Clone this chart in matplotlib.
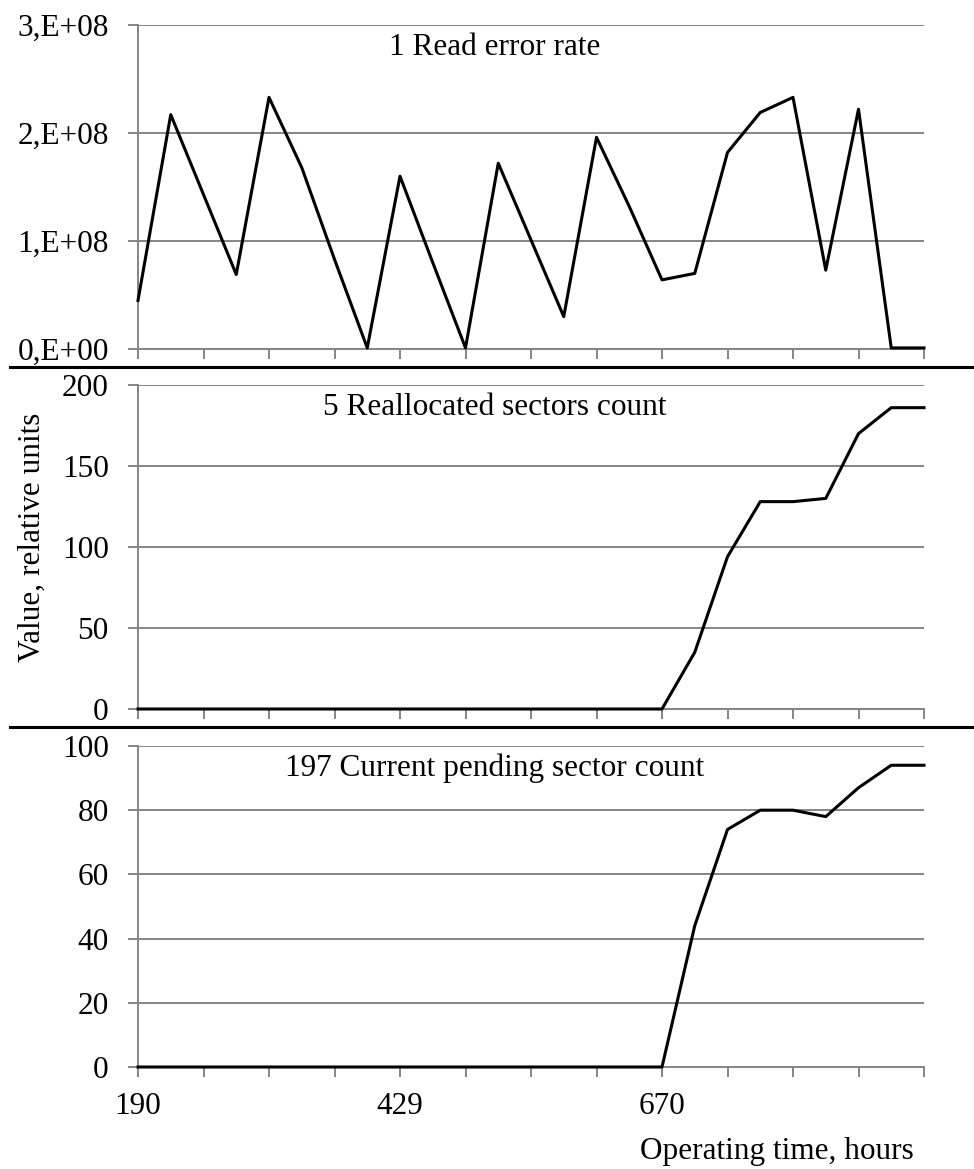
import matplotlib
matplotlib.use("Agg")
import matplotlib.pyplot as plt
from matplotlib.lines import Line2D
import numpy as np

plt.rcParams['font.family'] = ['Liberation Serif', 'DejaVu Serif']

# category positions (25 measurements), only a few are labelled
x_labels = ['190', '429', '670']
x_label_idx = [0, 8, 16]

# 1 Read error rate (x 1e8)
read_err = [0.45, 2.17, 1.43, 0.69, 2.33, 1.68, 0.83, 0.01, 1.60, 0.80,
            0.01, 1.72, 1.01, 0.30, 1.96, 1.32, 0.64, 0.70, 1.82, 2.19,
            2.33, 0.73, 2.22, 0.01, 0.01]
read_err = [v * 1e8 for v in read_err]

# 5 Reallocated sectors count
realloc = [0] * 16 + [0, 35, 94, 128, 128, 130, 170, 186, 186]

# 197 Current pending sector count
pending = [0] * 16 + [0, 44, 74, 80, 80, 78, 87, 94, 94]

titles = ['1 Read error rate', '5 Reallocated sectors count',
          '197 Current pending sector count']
series = [read_err, realloc, pending]
y_ticks = [[0, 1e8, 2e8, 3e8], [0, 50, 100, 150, 200],
           [0, 20, 40, 60, 80, 100]]
y_ticklabels = [['0,E+00', '1,E+08', '2,E+08', '3,E+08'],
                ['0', '50', '100', '150', '200'],
                ['0', '20', '40', '60', '80', '100']]

W, H = 974, 1169
fig = plt.figure(figsize=(W / 100, H / 100), dpi=100)

# panel extents in pixels (top, bottom)
panels = [(25, 349), (385, 709), (746, 1067)]
left, right = 138, 924
grid_col = '#858585'
fs = 22.5

axes = []
for k, (top, bot) in enumerate(panels):
    ax = fig.add_axes([left / W, 1 - bot / H, (right - left) / W, (bot - top) / H])
    axes.append(ax)
    xs = np.arange(len(series[k]))
    ax.plot(xs, series[k], color='black', lw=2.2, zorder=5, clip_on=False)
    ax.set_xlim(0, len(xs) - 1)
    ax.set_ylim(y_ticks[k][0], y_ticks[k][-1])
    ax.set_yticks(y_ticks[k])
    ax.set_yticklabels(y_ticklabels[k])
    ax.set_xticks(np.arange(0, len(xs), 2))
    if k == 2:
        lbls = [''] * len(ax.get_xticks())
        for i, t in zip(x_label_idx, x_labels):
            lbls[i // 2] = t
        ax.set_xticklabels(lbls)
    else:
        ax.set_xticklabels([])
    ax.grid(axis='y', color=grid_col, lw=1.4)
    ax.set_axisbelow(True)
    for s in ['top', 'right']:
        ax.spines[s].set_visible(False)
    for s in ['left', 'bottom']:
        ax.spines[s].set_color(grid_col)
        ax.spines[s].set_linewidth(1.4)
    ax.tick_params(axis='y', length=7, width=1.4, color=grid_col, pad=14,
                   labelsize=fs)
    ax.tick_params(axis='x', length=7, width=1.4, color=grid_col, pad=11,
                   labelsize=fs)
    ax.text(0.454, 0.932, titles[k], transform=ax.transAxes, ha='center',
            va='center', fontsize=fs)

axes[1].set_ylabel('Value, relative units', fontsize=fs)
axes[1].yaxis.set_label_coords(-0.116, 0.53)

fig.text(914 / W, 1 - 1152 / H, 'Operating time, hours', ha='right',
         va='center', fontsize=fs)

# black separators between panels
for yp in [367, 727]:
    fig.add_artist(Line2D([10 / W, 1.0], [1 - yp / H, 1 - yp / H],
                          color='black', lw=2.2))

fig.savefig('out.png', dpi=100)
